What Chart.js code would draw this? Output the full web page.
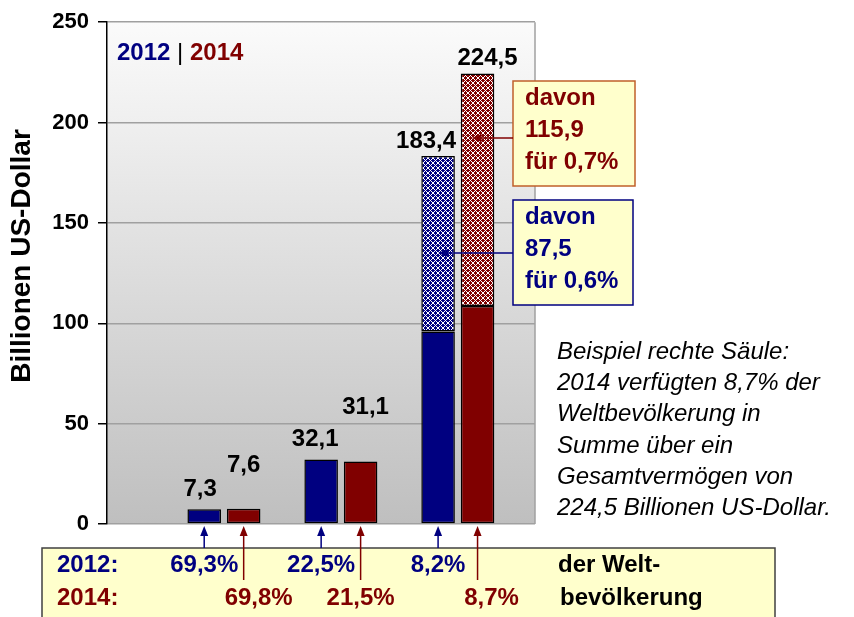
<!DOCTYPE html>
<html lang="de">
<head>
<meta charset="utf-8">
<title>Vermögen 2012 | 2014</title>
<script src="https://cdn.jsdelivr.net/npm/chart.js@4/dist/chart.umd.min.js"></script>
<style>
  html, body { margin: 0; padding: 0; background: #fff; }
  #wrap { width: 854px; height: 617px; }
</style>
</head>
<body>
<div id="wrap"><canvas id="wealthChart" width="854" height="617"></canvas></div>
<script>
// Daten (Billionen US-Dollar), drei Vermögensgruppen
const groupPos = [1, 2, 3];
const base2012 = [7.3, 32.1, 95.9];
const top2012 = [null, null, 87.5];
const base2014 = [7.6, 31.1, 108.6];
const top2014 = [null, null, 115.9];
const share2012 = [69.3, 22.5, 8.2];
const share2014 = [69.8, 21.5, 8.7];
const topShare2012 = 0.6;
const topShare2014 = 0.7;
const yTicks = [0, 50, 100, 150, 200, 250];

const FONT = "'Liberation Sans', Arial, sans-serif";
const NAVY = '#000080';
const MAROON = '#800000';

// Label-Verschiebung (x, Abstand nach oben) je Balken
const nudge2012 = [[-4, 20], [-6, 20], [-12, 15]];
const nudge2014 = [[0, 43], [5, 54], [10, 15]];

const de = v => v.toFixed(1).replace('.', ',');

function lattice(base, light) {
    const c = document.createElement('canvas');
    c.width = 5; c.height = 5;
    const g = c.getContext('2d');
    g.fillStyle = base;
    g.fillRect(0, 0, 5, 5);
    g.fillStyle = light;
    for (let x = 0; x < 5; x++) {
        for (let y = 0; y < 5; y++) {
            if ((x + y) % 5 === 0 || (x - y + 5) % 5 === 0) g.fillRect(x, y, 1, 1);
        }
    }
    return g.createPattern(c, 'repeat');
}

function arrow(ctx, x1, y1, x2, y2, color) {
    const a = Math.atan2(y2 - y1, x2 - x1);
    const c = Math.cos(a), s = Math.sin(a);
    ctx.strokeStyle = color;
    ctx.fillStyle = color;
    ctx.lineWidth = 1.5;
    ctx.beginPath();
    ctx.moveTo(x1, y1);
    ctx.lineTo(x2 - 8 * c, y2 - 8 * s);
    ctx.stroke();
    ctx.beginPath();
    ctx.moveTo(x2, y2);
    ctx.lineTo(x2 - 10 * c + 4 * s, y2 - 10 * s - 4 * c);
    ctx.lineTo(x2 - 10 * c - 4 * s, y2 - 10 * s + 4 * c);
    ctx.closePath();
    ctx.fill();
}

function textAt(ctx, str, x, y, color, size, align, style) {
    ctx.font = (style || 'bold') + ' ' + size + 'px ' + FONT;
    ctx.fillStyle = color;
    ctx.textAlign = align || 'left';
    ctx.textBaseline = 'middle';
    ctx.fillText(str, x, y);
}

function noteBox(ctx, x, y, w, h, border, lines, color, arrowY, tipX) {
    ctx.fillStyle = '#ffffcc';
    ctx.fillRect(x, y, w, h);
    ctx.strokeStyle = border;
    ctx.lineWidth = 1.5;
    ctx.strokeRect(x, y, w, h);
    lines.forEach((t, i) => textAt(ctx, t, x + 12, y + 17 + i * 32, color, 24));
    arrow(ctx, x, y + arrowY, tipX, y + arrowY, color);
}

const decor = {
    id: 'decor',
    beforeDraw(chart) {
        const { ctx, chartArea: a } = chart;
        const g = ctx.createLinearGradient(0, a.top, 0, a.bottom);
        g.addColorStop(0, '#fbfbfb');
        g.addColorStop(1, '#bfbfbf');
        ctx.save();
        ctx.fillStyle = g;
        ctx.fillRect(a.left, a.top, a.width, a.height);
        ctx.restore();
    },
    beforeDatasetsDraw(chart) {
        const { ctx, chartArea: a } = chart;
        ctx.save();
        ctx.strokeStyle = '#a0a0a0';
        ctx.lineWidth = 1.5;
        ctx.beginPath();
        ctx.moveTo(a.right, a.top);
        ctx.lineTo(a.right, a.bottom);
        ctx.stroke();
        ctx.restore();
    },
    afterDraw(chart) {
        const { ctx, chartArea: a } = chart;
        const b12 = chart.getDatasetMeta(0).data;
        const t12 = chart.getDatasetMeta(1).data;
        const b14 = chart.getDatasetMeta(2).data;
        const t14 = chart.getDatasetMeta(3).data;
        ctx.save();

        // Achsentitel
        ctx.save();
        ctx.translate(22, 256);
        ctx.rotate(-Math.PI / 2);
        textAt(ctx, 'Billionen US-Dollar', 0, 0, '#000', 28, 'center');
        ctx.restore();

        // Summen über den Säulen
        groupPos.forEach((p, i) => {
            const top1 = top2012[i] != null ? t12[i] : b12[i];
            const top2 = top2014[i] != null ? t14[i] : b14[i];
            const s1 = base2012[i] + (top2012[i] || 0);
            const s2 = base2014[i] + (top2014[i] || 0);
            textAt(ctx, de(s1), b12[i].x + nudge2012[i][0], top1.y - nudge2012[i][1], '#000', 24, 'center');
            textAt(ctx, de(s2), b14[i].x + nudge2014[i][0], top2.y - nudge2014[i][1], '#000', 24, 'center');
        });

        // Legende oben links
        let lx = a.left + 10;
        const ly = 53;
        textAt(ctx, '2012', lx, ly, NAVY, 24);
        lx += ctx.measureText('2012 ').width;
        textAt(ctx, '|', lx, ly, '#000', 24, 'left', 'normal');
        lx += ctx.measureText('| ').width;
        textAt(ctx, '2014', lx, ly, MAROON, 24);

        // Hinweiskästen "davon"
        const last = groupPos.length - 1;
        noteBox(ctx, a.right - 22, 81, 122, 105, '#c0602a',
            ['davon', de(top2014[last]), 'für ' + de(topShare2014) + '%'], MAROON, 57, t14[last].x - 6);
        noteBox(ctx, a.right - 22, 200, 120, 105, NAVY,
            ['davon', de(top2012[last]), 'für ' + de(topShare2012) + '%'], NAVY, 53, t12[last].x);

        // Erläuterung rechts
        const note = ['Beispiel rechte Säule:', '2014 verfügten ' + de(share2014[last]) + '% der',
            'Weltbevölkerung in', 'Summe über ein', 'Gesamtvermögen von',
            de(base2014[last] + top2014[last]) + ' Billionen US-Dollar.'];
        note.forEach((t, i) => textAt(ctx, t, 557, 352 + i * 31.3, '#000', 24, 'left', 'italic'));

        // Kasten unten: Anteil an der Weltbevölkerung
        const boxTop = 548;
        ctx.fillStyle = '#ffffcc';
        ctx.fillRect(42, boxTop, 733, 90);
        ctx.strokeStyle = '#404040';
        ctx.lineWidth = 1.5;
        ctx.strokeRect(42, boxTop, 733, 90);

        const row1 = 565, row2 = 598;
        textAt(ctx, '2012:', 57, row1, NAVY, 24);
        textAt(ctx, '2014:', 57, row2, MAROON, 24);
        const shift2014 = [15, 0, 14];
        groupPos.forEach((p, i) => {
            arrow(ctx, b12[i].x, boxTop, b12[i].x, a.bottom + 2, NAVY);
            arrow(ctx, b14[i].x, 580, b14[i].x, a.bottom + 2, MAROON);
            textAt(ctx, de(share2012[i]) + '%', b12[i].x, row1, NAVY, 24, 'center');
            textAt(ctx, de(share2014[i]) + '%', b14[i].x + shift2014[i], row2, MAROON, 24, 'center');
        });
        textAt(ctx, 'der Welt-', 558, row1, '#000', 24);
        textAt(ctx, 'bevölkerung', 560, row2, '#000', 24);

        ctx.restore();
    }
};

const ctx = document.getElementById('wealthChart');
const toPoints = vals => vals.map((v, i) => ({ x: groupPos[i], y: v }));

new Chart(ctx, {
    type: 'bar',
    data: {
        datasets: [
            { label: '2012', stack: '2012', data: toPoints(base2012), backgroundColor: NAVY },
            { label: '2012 davon', stack: '2012', data: toPoints(top2012), backgroundColor: lattice(NAVY, '#ffffff') },
            { label: '2014', stack: '2014', data: toPoints(base2014), backgroundColor: MAROON },
            { label: '2014 davon', stack: '2014', data: toPoints(top2014), backgroundColor: lattice(MAROON, '#ffffff') }
        ]
    },
    options: {
        responsive: false,
        animation: false,
        devicePixelRatio: 1,
        layout: { padding: { left: 0, top: 20, right: 319, bottom: 93 } },
        datasets: {
            bar: {
                borderColor: '#000',
                borderWidth: 1.5,
                borderSkipped: false,
                categoryPercentage: 0.675,
                barPercentage: 0.85
            }
        },
        scales: {
            x: {
                type: 'linear',
                display: false,
                offset: false,
                min: 0,
                max: 3.66,
                afterBuildTicks: s => { s.ticks = groupPos.map(v => ({ value: v })); }
            },
            y: {
                stacked: true,
                min: 0,
                max: 250,
                afterBuildTicks: s => { s.ticks = yTicks.map(v => ({ value: v })); },
                afterFit: s => { s.width = 107; },
                border: { color: '#000', width: 1.5 },
                grid: { color: '#a0a0a0', lineWidth: 1.5, tickColor: '#000', tickLength: 9 },
                ticks: { color: '#000', padding: 9, font: { family: FONT, size: 22, weight: 'bold' } }
            }
        },
        plugins: {
            legend: { display: false },
            tooltip: { enabled: false }
        }
    },
    plugins: [decor]
});
</script>
</body>
</html>
